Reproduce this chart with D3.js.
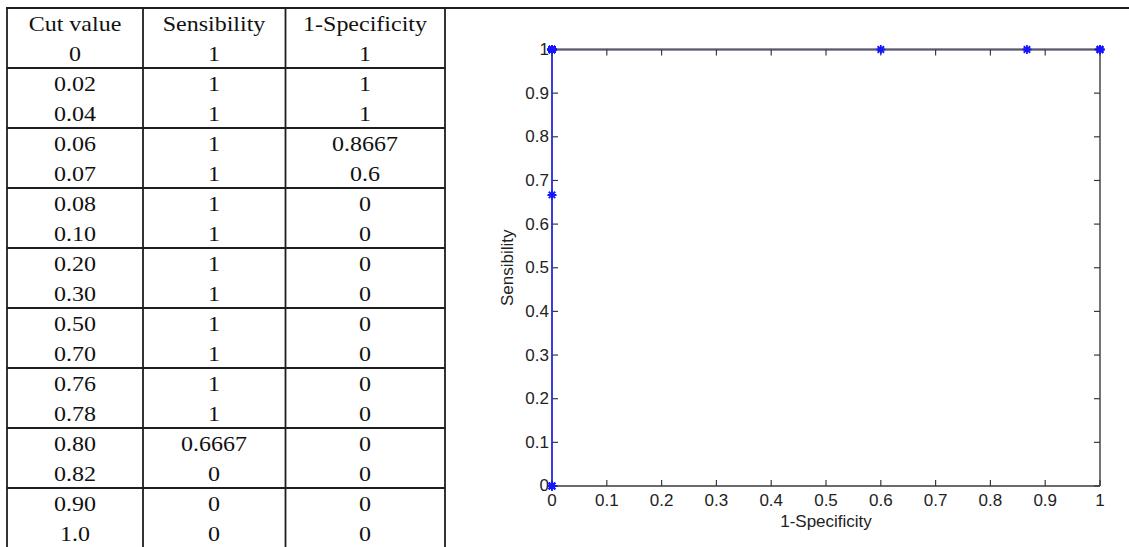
<!DOCTYPE html>
<html>
<head>
<meta charset="utf-8">
<script src="https://cdn.jsdelivr.net/npm/d3@7"></script>
<style>
  html, body { margin: 0; padding: 0; background: #fff; }
  svg { display: block; }
</style>
</head>
<body>
<svg id="fig" width="1129" height="547"></svg>
<script>
// ---- table contents ----
const headers = ["Cut value", "Sensibility", "1-Specificity"];
const cutValues = ["0", "0.02", "0.04", "0.06", "0.07", "0.08", "0.10", "0.20", "0.30",
                   "0.50", "0.70", "0.76", "0.78", "0.80", "0.82", "0.90", "1.0"];
const sensibility = [1, 1, 1, 1, 1, 1, 1, 1, 1, 1, 1, 1, 1, 0.6667, 0, 0, 0];
const oneMinusSpecificity = [1, 1, 1, 0.8667, 0.6, 0, 0, 0, 0, 0, 0, 0, 0, 0, 0, 0, 0];

// ---- axis ticks ----
const xTicks = [0, 0.1, 0.2, 0.3, 0.4, 0.5, 0.6, 0.7, 0.8, 0.9, 1];
const yTicks = [0, 0.1, 0.2, 0.3, 0.4, 0.5, 0.6, 0.7, 0.8, 0.9, 1];
const tickLabels = ["0", "0.1", "0.2", "0.3", "0.4", "0.5", "0.6", "0.7", "0.8", "0.9", "1"];

const svg = d3.select("#fig");
const W = 1129, H = 547;

// ================= TABLE =================
const lineColor = "#1e1e1e";
const colEdges = [7, 143, 285.5, 445];
const colCenters = [75, 214, 365];
const rowY = d3.scaleLinear().domain([0, 1]).range([8, 38]); // top of row i
const table = svg.append("g").attr("class", "table");

// top rule spans the whole figure width
table.append("line")
  .attr("x1", colEdges[0] - 1).attr("x2", W)
  .attr("y1", rowY(0)).attr("y2", rowY(0))
  .attr("stroke", lineColor).attr("stroke-width", 1.8);

// group separators every two rows
const groupLines = d3.range(2, cutValues.length, 2);
table.selectAll("line.hsep").data(groupLines).join("line")
  .attr("class", "hsep")
  .attr("x1", colEdges[0]).attr("x2", colEdges[3])
  .attr("y1", d => rowY(d)).attr("y2", d => rowY(d))
  .attr("stroke", lineColor).attr("stroke-width", 1.8);

// column rules
table.selectAll("line.vsep").data(colEdges).join("line")
  .attr("class", "vsep")
  .attr("x1", d => d).attr("x2", d => d)
  .attr("y1", rowY(0)).attr("y2", H)
  .attr("stroke", lineColor).attr("stroke-width", 1.8);

const rows = [headers].concat(cutValues.map((c, i) => [c, String(sensibility[i]), String(oneMinusSpecificity[i])]));
function cellText(str, col, row) {
  table.append("text")
    .attr("transform", `translate(${colCenters[col]},${rowY(row) + 22.7}) scale(1.2,1)`)
    .attr("text-anchor", "middle")
    .attr("font-family", "'Liberation Serif', 'Times New Roman', serif")
    .attr("font-size", 20)
    .attr("fill", "#111")
    .text(str);
}
rows.forEach((r, ri) => r.forEach((s, ci) => cellText(s, ci, ri)));

// ================= ROC PLOT =================
const plot = { left: 552, right: 1100, top: 49.5, bottom: 486 };
const x = d3.scaleLinear().domain([0, 1]).range([plot.left, plot.right]);
const y = d3.scaleLinear().domain([0, 1]).range([plot.bottom, plot.top]);
const axisColor = "#3a3a3a";
const fontSans = "'Liberation Sans', Arial, Helvetica, sans-serif";
const fontSize = 17;

function styleAxis(g) {
  g.select(".domain").attr("stroke", axisColor).attr("stroke-width", 1.4);
  g.selectAll(".tick line").attr("stroke", axisColor).attr("stroke-width", 1.2);
  g.selectAll(".tick text").attr("fill", "#222").attr("font-family", fontSans).attr("font-size", fontSize);
}

// left axis lies beneath the curve
const gLeft = svg.append("g").attr("transform", `translate(${plot.left},0)`)
  .call(d3.axisLeft(y).offset(0).tickValues(yTicks).tickFormat(d => tickLabels[yTicks.indexOf(d)])
        .tickSizeInner(-6).tickSizeOuter(0).tickPadding(3));
styleAxis(gLeft);

// ROC curve
const pts = oneMinusSpecificity.map((v, i) => [v, sensibility[i]]);
svg.append("path")
  .attr("d", d3.line().x(d => x(d[0])).y(d => y(d[1]))(pts))
  .attr("fill", "none").attr("stroke", "#2a2aff").attr("stroke-width", 1.5);

// remaining sides of the box, with inward ticks, drawn over the curve
const gBottom = svg.append("g").attr("transform", `translate(0,${plot.bottom})`)
  .call(d3.axisBottom(x).offset(0).tickValues(xTicks).tickFormat(d => tickLabels[xTicks.indexOf(d)])
        .tickSizeInner(-6).tickSizeOuter(0).tickPadding(8));
styleAxis(gBottom);

const gTop = svg.append("g").attr("transform", `translate(0,${plot.top})`)
  .call(d3.axisTop(x).offset(0).tickValues(xTicks).tickFormat("")
        .tickSizeInner(-6).tickSizeOuter(0));
styleAxis(gTop);
gTop.select(".domain").attr("stroke", "#5c5c5c").attr("stroke-width", 2.2);

const gRight = svg.append("g").attr("transform", `translate(${plot.right},0)`)
  .call(d3.axisRight(y).offset(0).tickValues(yTicks).tickFormat("")
        .tickSizeInner(-6).tickSizeOuter(0));
styleAxis(gRight);

// asterisk markers on top of everything
function star(r) {
  const p = d3.path();
  const k = r * 0.72;
  p.moveTo(-r, 0); p.lineTo(r, 0);
  p.moveTo(0, -r); p.lineTo(0, r);
  p.moveTo(-k, -k); p.lineTo(k, k);
  p.moveTo(-k, k); p.lineTo(k, -k);
  return p.toString();
}
svg.append("g").selectAll("path").data(pts).join("path")
  .attr("transform", d => `translate(${x(d[0])},${y(d[1])})`)
  .attr("d", star(4.5))
  .attr("fill", "none").attr("stroke", "#1515ff").attr("stroke-width", 1.8);

// axis titles
svg.append("text")
  .attr("x", (plot.left + plot.right) / 2).attr("y", 527)
  .attr("text-anchor", "middle")
  .attr("font-family", fontSans).attr("font-size", fontSize).attr("fill", "#222")
  .text("1-Specificity");

svg.append("text")
  .attr("transform", `translate(513,${(plot.top + plot.bottom) / 2}) rotate(-90)`)
  .attr("text-anchor", "middle")
  .attr("font-family", fontSans).attr("font-size", fontSize).attr("fill", "#222")
  .text("Sensibility");
</script>
</body>
</html>
